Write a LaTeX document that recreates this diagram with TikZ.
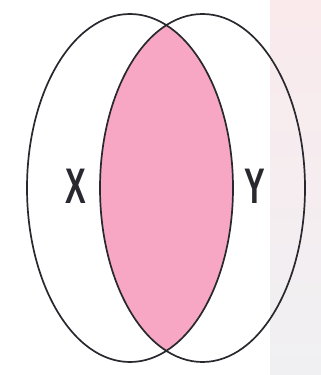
\documentclass[tikz,border=0pt]{standalone}
\usepackage{fontspec}
\setsansfont{Liberation Sans}
\usepackage{tikz}
\usetikzlibrary{positioning}
\definecolor{lensPink}{RGB}{247,166,196}
\definecolor{bandTop}{RGB}{250,234,236}
\definecolor{bandBot}{RGB}{240,240,243}
\definecolor{edgeGray}{RGB}{40,40,46}

\begin{document}
\begin{tikzpicture}[
   x=1pt,y=-1pt,
   setline/.style={draw=edgeGray,line width=1.7pt},
   setlabel/.style={font=\sffamily\bfseries\fontsize{50}{50}\selectfont,
                    text=edgeGray,xscale=0.62,inner sep=0pt}
 ]
  \useasboundingbox (0,0) rectangle (321,375);
  % light band on the right
  \shade[top color=bandTop,bottom color=bandBot] (270,0) rectangle (321,375);
  % intersection X and Y
  \begin{scope}
    \clip (130,188) ellipse [x radius=103,y radius=174];
    \fill[lensPink] (202.5,188) ellipse [x radius=102.5,y radius=174];
  \end{scope}
  \draw[setline] (130,188) ellipse [x radius=103,y radius=174];
  \draw[setline] (202.5,188) ellipse [x radius=102.5,y radius=174];
  \node[setlabel] (setX) at (76,186) {X};
  \node[setlabel] (setY) at (255,186) {Y};
 \end{tikzpicture}
\end{document}
